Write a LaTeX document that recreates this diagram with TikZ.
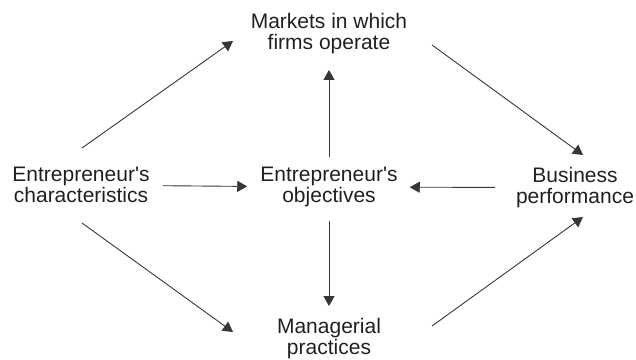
\documentclass[tikz,border=0pt]{standalone}
\usepackage{fontspec}
\setmainfont{Liberation Sans}
\usetikzlibrary{arrows.meta}
\definecolor{ink}{HTML}{231F20}
\newcommand{\apos}{\textquotesingle}
\begin{document}
\begin{tikzpicture}[x=1pt,y=-1pt,
  label/.style={anchor=north,align=center,inner sep=0pt,text=ink,
    font=\fontsize{21}{21}\selectfont},
  link/.style={draw=ink!90,line width=0.9pt,
    -{Triangle[length=10pt,width=11pt]}}]
\useasboundingbox (0,0) rectangle (636,359);

% concept labels
\node[label] (mkt)   at (329,13)  {Markets in which\\firms operate};
\node[label] (chars) at (81,167)  {Entrepreneur\apos s\\characteristics};
\node[label] (obj)   at (329,167) {Entrepreneur\apos s\\objectives};
\node[label] (perf)  at (575,167) {Business\\performance};
\node[label] (mgmt)  at (329,318) {Managerial\\practices};

% ends of the diagonal links
\coordinate (c-up)   at (82,148);
\coordinate (m-in)   at (233,41);
\coordinate (c-down) at (82,223);
\coordinate (g-in)   at (233,332);
\coordinate (m-out)  at (432,45);
\coordinate (p-top)  at (583,155);
\coordinate (g-out)  at (432,326);
\coordinate (p-bot)  at (583,217);

% diagonal links
\draw[link] (c-up) -- (m-in);
\draw[link] (c-down) -- (g-in);
\draw[link] (m-out) -- (p-top);
\draw[link] (g-out) -- (p-bot);

% horizontal links into the objectives
\draw[link,shorten <=13pt,shorten >=13pt] (chars) -- (obj);
\draw[link,shorten <=21pt,shorten >=12pt] (perf) -- (obj);

% vertical links out of the objectives
\draw[link,shorten <=10pt,shorten >=16pt] (obj) -- (mkt);
\draw[link,shorten <=14pt,shorten >=12pt] (obj) -- (mgmt);
\end{tikzpicture}
\end{document}
